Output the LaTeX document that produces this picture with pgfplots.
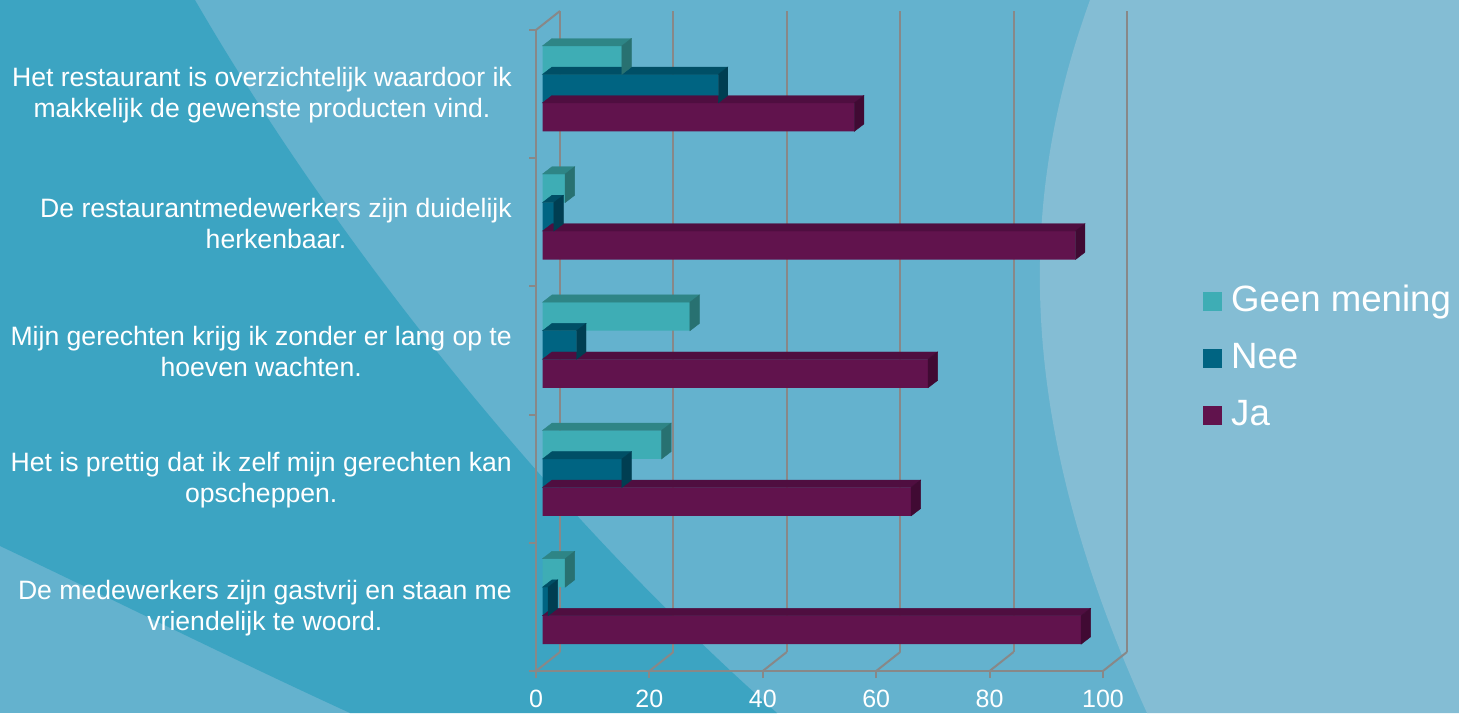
\documentclass[border=0pt]{standalone}
\usepackage{fontspec}
\setmainfont{Liberation Sans}
\usepackage{pgfplots}
\usepackage{pgfplotstable}
\pgfplotsset{compat=1.18}
\definecolor{bgmid}{RGB}{100,178,206}
\definecolor{bgdark}{RGB}{60,164,194}
\definecolor{bgright}{RGB}{132,189,212}
\definecolor{gridc}{RGB}{136,136,136}
\definecolor{geenF}{RGB}{62,173,181}
\definecolor{geenT}{RGB}{46,133,134}
\definecolor{geenS}{RGB}{40,113,113}
\definecolor{neeF}{RGB}{0,100,130}
\definecolor{neeT}{RGB}{0,79,102}
\definecolor{neeS}{RGB}{0,62,82}
\definecolor{jaF}{RGB}{97,19,77}
\definecolor{jaT}{RGB}{79,14,64}
\definecolor{jaS}{RGB}{64,10,51}

\pgfdeclareplotmark{void}{}

% cat 0 = bottom category ... cat 4 = top category
\pgfplotstableread{
cat ja nee geen
0 95 1 4
1 65 14 21
2 68 6 26
3 94 2 4
4 55 31 14
}\data

\pgfplotsset{
  faces/.style n args={3}{% #1 bar shift, #2 top colour, #3 side colour
    forget plot, only marks, mark=void, scatter,
    visualization depends on={rawx \as \barlen},
    scatter/@pre marker code/.code={%
      \pgfmathsetmacro\L{\barlen*5.67}%
      \fill[#2] (6.5pt-\L pt,#1+14.25pt) -- (6.5pt,#1+14.25pt) -- (16pt,#1+21.55pt) -- (16pt-\L pt,#1+21.55pt) -- cycle;
      \fill[#3] (6.5pt,#1-14.25pt) -- (16pt,#1-6.95pt) -- (16pt,#1+21.55pt) -- (6.5pt,#1+14.25pt) -- cycle;
    },
    scatter/@post marker code/.code={},
  },
  front/.style n args={2}{% #1 bar shift, #2 colour
    xbar, bar width=28.5pt, bar shift=#1, xshift=6.5pt, fill=#2, draw=none,
  },
}

\begin{document}
\begin{tikzpicture}
\useasboundingbox (0pt,0pt) rectangle (1459pt,713pt);
\begin{scope}[x=1pt,y=1pt]
\fill[bgmid] (0,0) rectangle (1459,713);
\fill[bgdark] (0,713) -- (195,713) .. controls (330,480) and (540,210) .. (777,0) -- (350,0) .. controls (230,55) and (110,115) .. (0,167) -- cycle;
\fill[bgright] (1459,713) -- (1090,713) .. controls (1020,520) and (1010,300) .. (1147,0) -- (1459,0) -- cycle;
\end{scope}
\begin{axis}[
  at={(536pt,42pt)}, anchor=south west,
  x=5.67pt, y=128.2pt,
  xmin=0, xmax=100, ymin=-0.5, ymax=4.5,
  clip=false,
  axis x line*=bottom, axis y line*=left,
  axis line style={-, draw=gridc, line width=2pt},
  tick style={draw=gridc, line width=2pt},
  tick align=outside,
  major tick length=7pt,
  xtick={0,20,...,100},
  ytick={-0.5,0.5,...,4.5}, yticklabels={},
  /pgf/number format/assume math mode=true,
  xticklabel style={font=\fontsize{25}{30}\selectfont, text=white, inner sep=0pt, yshift=-12pt},
  extra y ticks={0,1,2,3,4},
  extra y tick labels={{De medewerkers zijn gastvrij en staan me\\vriendelijk te woord.},
    {Het is prettig dat ik zelf mijn gerechten kan\\opscheppen.},
    {Mijn gerechten krijg ik zonder er lang op te\\hoeven wachten.},
    {De restaurantmedewerkers zijn duidelijk\\herkenbaar.},
    {Het restaurant is overzichtelijk waardoor ik\\makkelijk de gewenste producten vind.}},
  extra y tick style={major tick length=0pt,
    yticklabel style={font=\fontsize{26.6}{31}\selectfont, text=white, align=center, inner sep=0pt, anchor=east, xshift=-24pt, yshift=-1pt}},
  legend style={at={(rel axis cs:1,0.5)}, anchor=west, xshift=97pt, yshift=-8pt,
    draw=none, fill=none, text=white, font=\fontsize{36.6}{44}\selectfont,
    nodes={text height=27pt, text depth=8pt, inner ysep=11pt, inner xsep=9pt}},
  legend cell align=left,
  reverse legend,
  legend image code/.code={\fill[#1] (-6.5pt,-9.5pt) rectangle (12.5pt,9.5pt);},
]
% back wall and floor
\pgfplotsinvokeforeach{0,20,40,60,80,100}{
  \draw[gridc, line width=2pt] ([shift={(24pt,19pt)}]axis cs:#1,-0.5) -- ([shift={(24pt,19pt)}]axis cs:#1,4.5);
  \draw[gridc, line width=2pt] (axis cs:#1,-0.5) -- ([shift={(24pt,19pt)}]axis cs:#1,-0.5);
}
\draw[gridc, line width=2pt] (axis cs:0,4.5) -- ([shift={(24pt,19pt)}]axis cs:0,4.5);

\addplot[faces={-23pt}{jaT}{jaS}] table[x=ja, y=cat] {\data};
\addplot[front={-23pt}{jaF}] table[x=ja, y=cat] {\data};
\addlegendentry{Ja}
\addplot[faces={5.5pt}{neeT}{neeS}] table[x=nee, y=cat] {\data};
\addplot[front={5.5pt}{neeF}] table[x=nee, y=cat] {\data};
\addlegendentry{Nee}
\addplot[faces={34pt}{geenT}{geenS}] table[x=geen, y=cat] {\data};
\addplot[front={34pt}{geenF}] table[x=geen, y=cat] {\data};
\addlegendentry{Geen mening}
\end{axis}
\end{tikzpicture}
\end{document}
